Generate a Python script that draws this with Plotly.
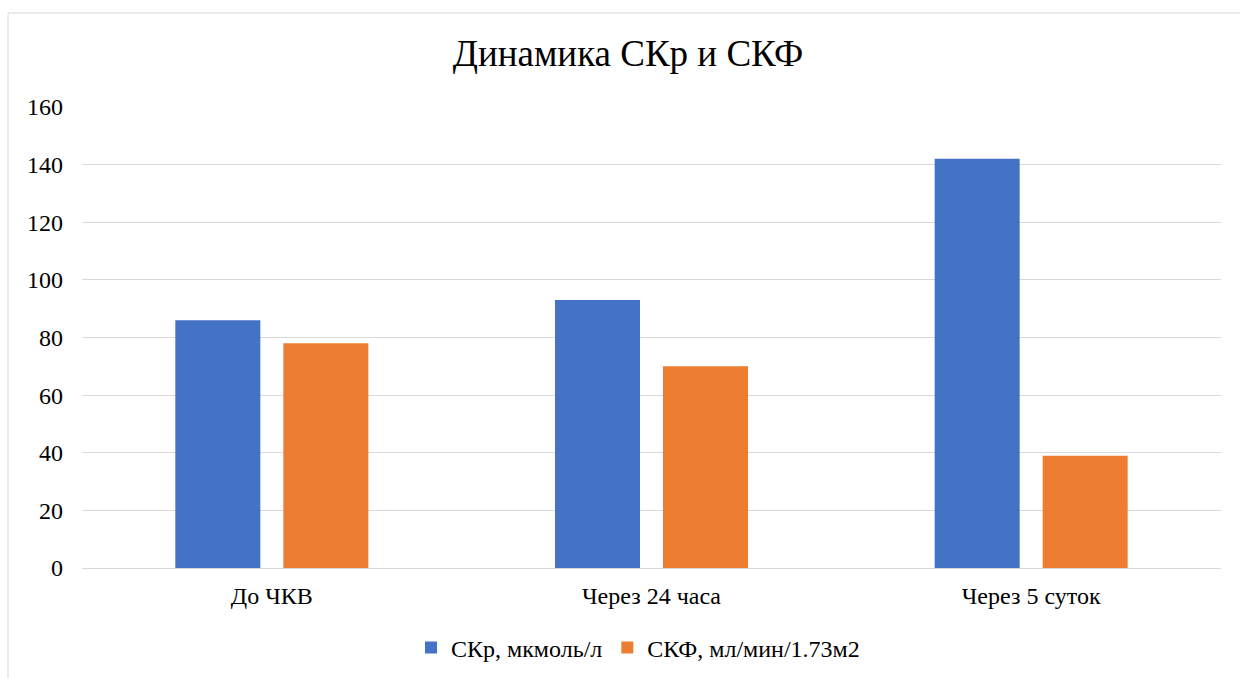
import plotly.graph_objects as go

categories = ["До ЧКВ", "Через 24 часа", "Через 5 суток"]
series_names = ["СКр, мкмоль/л", "СКФ, мл/мин/1.73м2"]
skr_values = [86, 93, 142]
skf_values = [78, 70, 39]
colors = ["#4472C4", "#ED7D31"]
y_ticks = [0, 20, 40, 60, 80, 100, 120, 140, 160]

W, H = 1240, 678
L, R, T, B = 82, 19, 107, 110
pw, ph = W - L - R, H - T - B

font = "Liberation Serif"

fig = go.Figure()
for name, vals, c in zip(series_names, [skr_values, skf_values], colors):
    fig.add_trace(go.Bar(x=categories, y=vals, name=name, marker_color=c,
                         marker_line_width=0))

fig.update_layout(
    width=W, height=H,
    margin=dict(l=L, r=R, t=T, b=B, autoexpand=False),
    paper_bgcolor="white", plot_bgcolor="white",
    font=dict(family=font, size=24, color="#000000"),
    title=dict(text="Динамика СКр и СКФ", x=628 / W, xanchor="center",
               y=1 - 53 / H, yanchor="middle",
               font=dict(family=font, size=37, color="#000000")),
    barmode="group", bargap=0.431, bargroupgap=0.213,
    showlegend=True,
    legend=dict(orientation="h", xref="container", x=638 / W, xanchor="center",
                yref="container", y=1 - 648 / H, yanchor="middle",
                font=dict(family=font, size=24), itemwidth=30,
                traceorder="normal"),
    xaxis=dict(showgrid=False, showline=False, ticks="",
               ticklabelstandoff=11,
               tickfont=dict(family=font, size=24)),
    yaxis=dict(range=[0, 160], tickvals=y_ticks, showgrid=True,
               gridcolor="#d9d9d9", gridwidth=1, zeroline=True,
               zerolinecolor="#d9d9d9", zerolinewidth=1, showline=False,
               ticks="", ticklen=0, ticklabelstandoff=18,
               tickfont=dict(family=font, size=24)),
)

fig.add_shape(type="rect", xref="paper", yref="paper",
              x0=(8 - L) / pw, x1=(1260 - L) / pw,
              y0=(568 - 700) / ph, y1=(568 - 13) / ph,
              line=dict(color="#d9d9d9", width=1), fillcolor="rgba(0,0,0,0)",
              layer="below")

fig.write_html("out.html", config={"displayModeBar": False},
               post_script="document.body.style.margin='0';document.body.style.padding='0';")
